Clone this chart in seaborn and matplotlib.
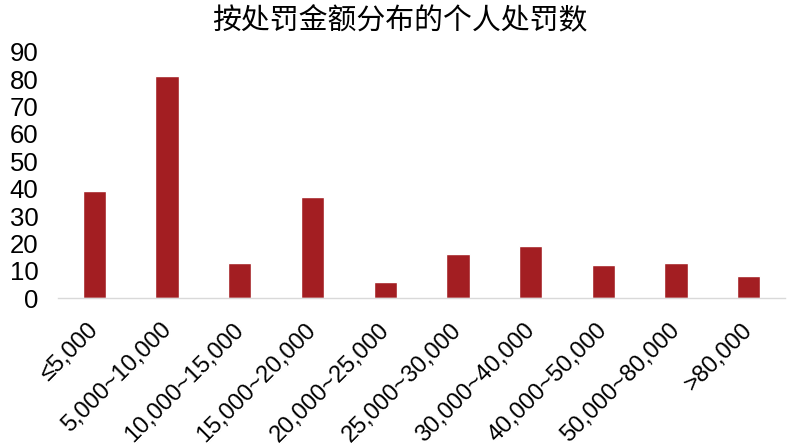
import matplotlib
matplotlib.use("Agg")
import matplotlib.pyplot as plt
import matplotlib.transforms as mtransforms
import seaborn as sns
import pandas as pd

categories = ["≤5,000", "5,000~10,000", "10,000~15,000", "15,000~20,000",
              "20,000~25,000", "25,000~30,000", "30,000~40,000",
              "40,000~50,000", "50,000~80,000", ">80,000"]
counts = [39, 81, 13, 37, 6, 16, 19, 12, 13, 8]
y_ticks = [0, 10, 20, 30, 40, 50, 60, 70, 80, 90]
title = "按处罚金额分布的个人处罚数"

sns.set_theme(style="white")
plt.rcParams['font.family'] = ['Liberation Sans', 'DejaVu Sans', 'Noto Sans CJK SC']

df = pd.DataFrame({"cat": categories, "n": counts})

fig = plt.figure(figsize=(8, 4.47), dpi=100)
ax = fig.add_axes([0.0725, 0.333, 0.9088, 0.551])
sns.barplot(data=df, x="cat", y="n", color="#A31E22", saturation=1,
            width=0.32, ax=ax)
ax.set_xlim(-0.5, 9.5)
ax.set_ylim(0, 90)
ax.set_yticks(y_ticks)
ax.set_xlabel("")
ax.set_ylabel("")
for s in ["top", "right", "left"]:
    ax.spines[s].set_visible(False)
ax.spines["bottom"].set_color("#D9D9D9")
ax.spines["bottom"].set_linewidth(1.0)
ax.tick_params(axis="y", length=0, labelsize=18.5, pad=14, colors="black")
ax.tick_params(axis="x", length=0, labelsize=17, pad=15, colors="black")
offset = mtransforms.ScaledTranslation(6/72, 0, fig.dpi_scale_trans)
for lbl in ax.get_xticklabels():
    lbl.set_rotation(45)
    lbl.set_ha("right")
    lbl.set_transform(lbl.get_transform() + offset)
fig.text(0.5, 0.952, title, ha="center", va="center", fontsize=20.8,
         family=['Noto Sans CJK SC', 'DejaVu Sans'], color="black")
fig.savefig("out.png", dpi=100)
